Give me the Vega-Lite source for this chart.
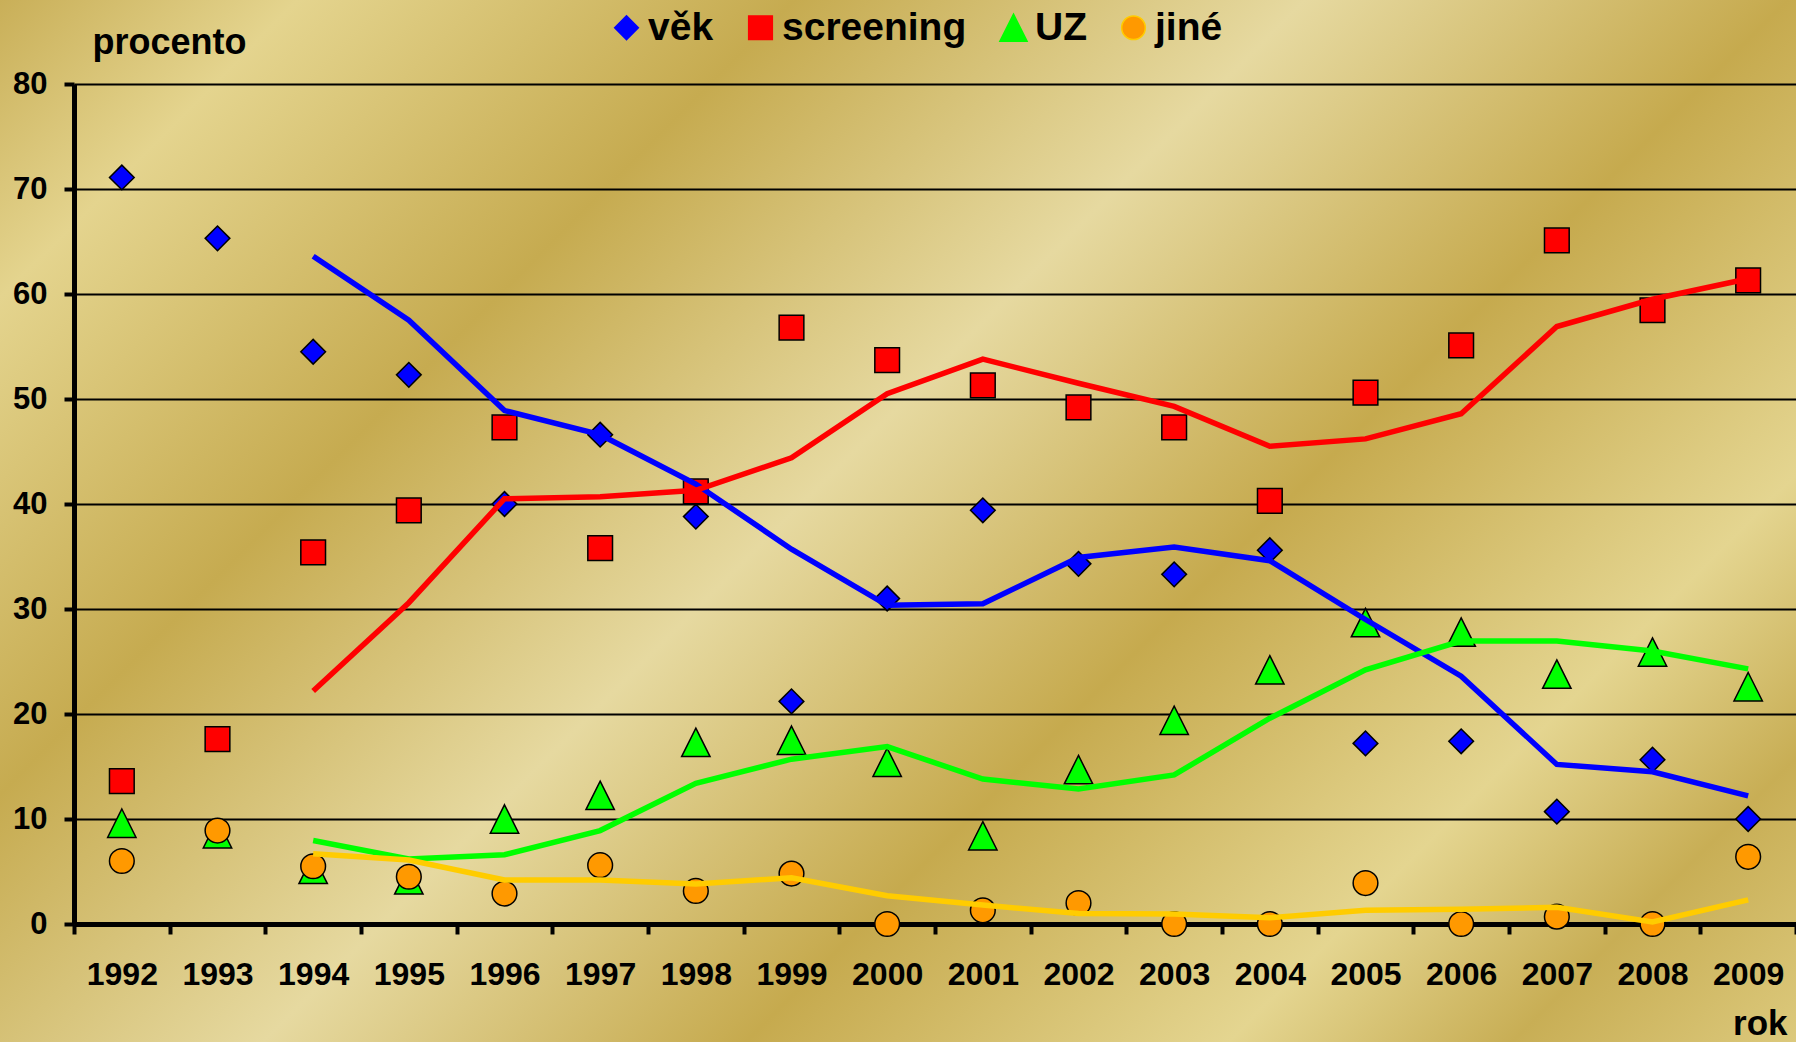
{
  "$schema": "https://vega.github.io/schema/vega-lite/v6.json",
  "width": 1796,
  "height": 1042,
  "autosize": {"type": "none"},
  "padding": 0,
  "background": "#D6C274",
  "config": {
    "font": "Liberation Sans",
    "view": {
      "stroke": null,
      "fill": {
        "gradient": "linear",
        "x1": 0, "y1": 0, "x2": 1.1822, "y2": 0.6859,
        "stops": [
          {"offset": 0.0, "color": "#C9AF58"},
          {"offset": 0.105, "color": "#E4D48E"},
          {"offset": 0.28, "color": "#C6AB50"},
          {"offset": 0.46, "color": "#E6D9A0"},
          {"offset": 0.63, "color": "#C6AA4E"},
          {"offset": 0.8, "color": "#E4D590"},
          {"offset": 0.9, "color": "#C8AE55"},
          {"offset": 1.0, "color": "#DCC97C"}
        ]
      }
    }
  },
  "data": {
    "values": [
      {"rok": 1992, "ukazatel": "věk", "hodnota": 71.1, "trend": null},
      {"rok": 1993, "ukazatel": "věk", "hodnota": 65.3, "trend": null},
      {"rok": 1994, "ukazatel": "věk", "hodnota": 54.5, "trend": 63.6},
      {"rok": 1995, "ukazatel": "věk", "hodnota": 52.3, "trend": 57.5},
      {"rok": 1996, "ukazatel": "věk", "hodnota": 40.0, "trend": 48.9},
      {"rok": 1997, "ukazatel": "věk", "hodnota": 46.6, "trend": 46.6},
      {"rok": 1998, "ukazatel": "věk", "hodnota": 38.8, "trend": 41.9},
      {"rok": 1999, "ukazatel": "věk", "hodnota": 21.2, "trend": 35.7},
      {"rok": 2000, "ukazatel": "věk", "hodnota": 31.0, "trend": 30.35},
      {"rok": 2001, "ukazatel": "věk", "hodnota": 39.4, "trend": 30.5},
      {"rok": 2002, "ukazatel": "věk", "hodnota": 34.3, "trend": 34.9},
      {"rok": 2003, "ukazatel": "věk", "hodnota": 33.3, "trend": 35.9},
      {"rok": 2004, "ukazatel": "věk", "hodnota": 35.6, "trend": 34.6},
      {"rok": 2005, "ukazatel": "věk", "hodnota": 17.2, "trend": 29.0},
      {"rok": 2006, "ukazatel": "věk", "hodnota": 17.4, "trend": 23.6},
      {"rok": 2007, "ukazatel": "věk", "hodnota": 10.7, "trend": 15.2},
      {"rok": 2008, "ukazatel": "věk", "hodnota": 15.65, "trend": 14.5},
      {"rok": 2009, "ukazatel": "věk", "hodnota": 10.0, "trend": 12.2},
      {"rok": 1992, "ukazatel": "screening", "hodnota": 13.6, "trend": null},
      {"rok": 1993, "ukazatel": "screening", "hodnota": 17.6, "trend": null},
      {"rok": 1994, "ukazatel": "screening", "hodnota": 35.4, "trend": 22.2},
      {"rok": 1995, "ukazatel": "screening", "hodnota": 39.4, "trend": 30.6},
      {"rok": 1996, "ukazatel": "screening", "hodnota": 47.3, "trend": 40.5},
      {"rok": 1997, "ukazatel": "screening", "hodnota": 35.8, "trend": 40.7},
      {"rok": 1998, "ukazatel": "screening", "hodnota": 41.2, "trend": 41.3},
      {"rok": 1999, "ukazatel": "screening", "hodnota": 56.8, "trend": 44.4},
      {"rok": 2000, "ukazatel": "screening", "hodnota": 53.7, "trend": 50.5},
      {"rok": 2001, "ukazatel": "screening", "hodnota": 51.3, "trend": 53.8},
      {"rok": 2002, "ukazatel": "screening", "hodnota": 49.2, "trend": 51.5},
      {"rok": 2003, "ukazatel": "screening", "hodnota": 47.3, "trend": 49.3},
      {"rok": 2004, "ukazatel": "screening", "hodnota": 40.3, "trend": 45.5},
      {"rok": 2005, "ukazatel": "screening", "hodnota": 50.6, "trend": 46.2},
      {"rok": 2006, "ukazatel": "screening", "hodnota": 55.1, "trend": 48.6},
      {"rok": 2007, "ukazatel": "screening", "hodnota": 65.1, "trend": 56.9},
      {"rok": 2008, "ukazatel": "screening", "hodnota": 58.45, "trend": 59.5},
      {"rok": 2009, "ukazatel": "screening", "hodnota": 61.3, "trend": 61.45},
      {"rok": 1992, "ukazatel": "UZ", "hodnota": 9.6, "trend": null},
      {"rok": 1993, "ukazatel": "UZ", "hodnota": 8.6, "trend": null},
      {"rok": 1994, "ukazatel": "UZ", "hodnota": 5.2, "trend": 7.95},
      {"rok": 1995, "ukazatel": "UZ", "hodnota": 4.2, "trend": 6.2},
      {"rok": 1996, "ukazatel": "UZ", "hodnota": 10.0, "trend": 6.6},
      {"rok": 1997, "ukazatel": "UZ", "hodnota": 12.25, "trend": 8.9},
      {"rok": 1998, "ukazatel": "UZ", "hodnota": 17.3, "trend": 13.4},
      {"rok": 1999, "ukazatel": "UZ", "hodnota": 17.5, "trend": 15.7},
      {"rok": 2000, "ukazatel": "UZ", "hodnota": 15.4, "trend": 16.9},
      {"rok": 2001, "ukazatel": "UZ", "hodnota": 8.4, "trend": 13.8},
      {"rok": 2002, "ukazatel": "UZ", "hodnota": 14.7, "trend": 12.85},
      {"rok": 2003, "ukazatel": "UZ", "hodnota": 19.4, "trend": 14.2},
      {"rok": 2004, "ukazatel": "UZ", "hodnota": 24.2, "trend": 19.6},
      {"rok": 2005, "ukazatel": "UZ", "hodnota": 28.7, "trend": 24.2},
      {"rok": 2006, "ukazatel": "UZ", "hodnota": 27.8, "trend": 26.95},
      {"rok": 2007, "ukazatel": "UZ", "hodnota": 23.8, "trend": 26.95},
      {"rok": 2008, "ukazatel": "UZ", "hodnota": 25.9, "trend": 26.0},
      {"rok": 2009, "ukazatel": "UZ", "hodnota": 22.6, "trend": 24.3},
      {"rok": 1992, "ukazatel": "jiné", "hodnota": 6.0, "trend": null},
      {"rok": 1993, "ukazatel": "jiné", "hodnota": 8.9, "trend": null},
      {"rok": 1994, "ukazatel": "jiné", "hodnota": 5.5, "trend": 6.7},
      {"rok": 1995, "ukazatel": "jiné", "hodnota": 4.5, "trend": 6.1},
      {"rok": 1996, "ukazatel": "jiné", "hodnota": 2.9, "trend": 4.2},
      {"rok": 1997, "ukazatel": "jiné", "hodnota": 5.6, "trend": 4.2},
      {"rok": 1998, "ukazatel": "jiné", "hodnota": 3.15, "trend": 3.8},
      {"rok": 1999, "ukazatel": "jiné", "hodnota": 4.8, "trend": 4.4},
      {"rok": 2000, "ukazatel": "jiné", "hodnota": 0.0, "trend": 2.7},
      {"rok": 2001, "ukazatel": "jiné", "hodnota": 1.3, "trend": 1.8},
      {"rok": 2002, "ukazatel": "jiné", "hodnota": 2.0, "trend": 1.0},
      {"rok": 2003, "ukazatel": "jiné", "hodnota": 0.0, "trend": 0.95},
      {"rok": 2004, "ukazatel": "jiné", "hodnota": 0.0, "trend": 0.6},
      {"rok": 2005, "ukazatel": "jiné", "hodnota": 3.9, "trend": 1.3},
      {"rok": 2006, "ukazatel": "jiné", "hodnota": 0.0, "trend": 1.4},
      {"rok": 2007, "ukazatel": "jiné", "hodnota": 0.7, "trend": 1.6},
      {"rok": 2008, "ukazatel": "jiné", "hodnota": 0.0, "trend": 0.2},
      {"rok": 2009, "ukazatel": "jiné", "hodnota": 6.4, "trend": 2.3}
    ]
  },
  "encoding": {
    "x": {
      "field": "rok",
      "type": "ordinal",
      "scale": {"type": "band", "paddingInner": 0, "paddingOuter": 0, "range": [74, 1796]},
      "axis": {
        "offset": -118,
        "title": "rok",
        "titleX": 1787,
        "titleY": 110,
        "titleAlign": "right",
        "titleAnchor": null,
        "titleBaseline": "alphabetic",
        "titleFontSize": 35,
        "titleFontWeight": "bold",
        "titleColor": "black",
        "titleFont": "Liberation Sans",
        "labelAngle": 0,
        "labelFont": "Liberation Sans",
        "labelFontSize": 32,
        "labelFontWeight": "bold",
        "labelColor": "black",
        "labelPadding": 25,
        "tickSize": 10,
        "tickWidth": 4,
        "tickColor": "black",
        "tickBand": "extent",
        "domainColor": "black",
        "domainWidth": 5,
        "grid": false
      }
    }
  },
  "layer": [
    {
      "mark": {"type": "point", "filled": true, "size": 610, "stroke": "black", "strokeWidth": 1.5, "opacity": 1},
      "encoding": {
        "y": {
          "field": "hodnota",
          "type": "quantitative",
          "scale": {"domain": [0, 80], "nice": false, "zero": true, "range": [924, 84]},
          "axis": {
            "offset": -74,
            "title": "procento",
            "titleAngle": 0,
            "titleX": 18,
            "titleY": 53,
            "titleAlign": "left",
            "titleAnchor": null,
            "titleBaseline": "alphabetic",
            "titleFont": "Liberation Sans",
            "titleFontSize": 36,
            "titleFontWeight": "bold",
            "titleColor": "black",
            "values": [0, 10, 20, 30, 40, 50, 60, 70, 80],
            "labelFont": "Liberation Sans",
            "labelFontSize": 31,
            "labelFontWeight": "bold",
            "labelColor": "black",
            "labelPadding": 17,
            "tickSize": 10,
            "tickWidth": 4,
            "tickColor": "black",
            "domainColor": "black",
            "domainWidth": 5,
            "grid": true,
            "gridColor": "black",
            "gridWidth": 2,
            "gridOpacity": 1
          }
        },
        "fill": {
          "field": "ukazatel",
          "type": "nominal",
          "scale": {"domain": ["věk", "screening", "UZ", "jiné"], "range": ["#0000FF", "#FF0000", "#00FF00", "#FF9900"]},
          "legend": {
            "orient": "none",
            "legendX": 607,
            "legendY": 8,
            "direction": "horizontal",
            "columns": 4,
            "title": null,
            "padding": 0,
            "labelFont": "Liberation Sans",
            "labelFontSize": 39,
            "labelFontWeight": "bold",
            "labelColor": "black",
            "labelLimit": 400,
            "labelOffset": 2,
            "columnPadding": 27,
            "symbolSize": 560,
            "symbolStrokeColor": "black",
            "symbolStrokeWidth": 1.5,
            "symbolOpacity": 1
          }
        },
        "shape": {
          "field": "ukazatel",
          "type": "nominal",
          "scale": {"domain": ["věk", "screening", "UZ", "jiné"], "range": ["diamond", "square", "M0,-1.15L1.15,1.15L-1.15,1.15Z", "circle"]},
          "legend": {
            "orient": "none",
            "legendX": 607,
            "legendY": 8,
            "direction": "horizontal",
            "columns": 4,
            "title": null,
            "padding": 0,
            "labelFont": "Liberation Sans",
            "labelFontSize": 39,
            "labelFontWeight": "bold",
            "labelColor": "black",
            "labelLimit": 400,
            "labelOffset": 2,
            "columnPadding": 27,
            "symbolSize": 560,
            "symbolStrokeColor": "black",
            "symbolStrokeWidth": 1.5,
            "symbolOpacity": 1
          }
        }
      }
    },
    {
      "mark": {"type": "line", "strokeWidth": 5.5},
      "encoding": {
        "y": {"field": "trend", "type": "quantitative"},
        "stroke": {
          "field": "ukazatel",
          "type": "nominal",
          "scale": {"domain": ["věk", "screening", "UZ", "jiné"], "range": ["#0000FF", "#FF0000", "#00FF00", "#FFCC00"]},
          "legend": null
        }
      }
    }
  ]
}
